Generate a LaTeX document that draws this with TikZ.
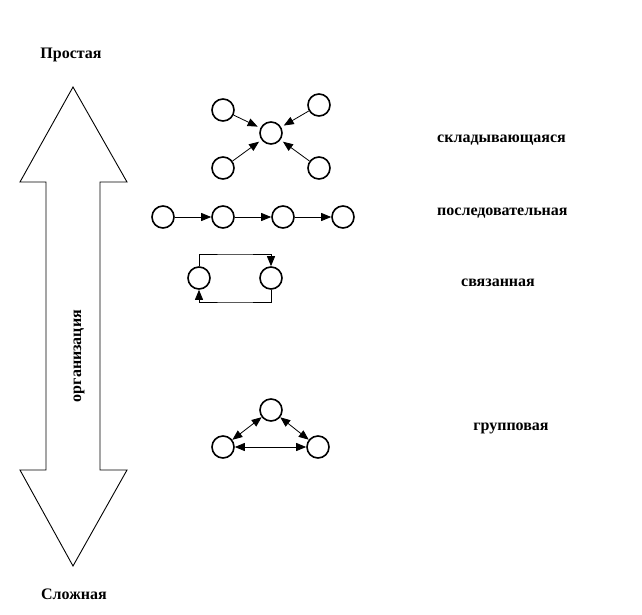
\documentclass[tikz,border=0pt]{standalone}
\usepackage{fontspec}
\setmainfont{Liberation Serif}
\usetikzlibrary{arrows.meta}
\begin{document}
\begin{tikzpicture}[x=1pt,y=-1pt,
  nd/.style={circle,draw,line width=1.6pt,minimum size=22pt,inner sep=0pt},
  lbl/.style={font=\bfseries\fontsize{16}{18}\selectfont,inner sep=0pt},
  conn/.style={line width=0.8pt,-{Triangle[length=10pt,width=8pt]}},
  dconn/.style={line width=0.8pt,{Triangle[length=10pt,width=8pt]}-{Triangle[length=10pt,width=8pt]}}]
\useasboundingbox (0,0) rectangle (642,614);
% big arrow
\draw[line width=0.9pt] (73,87) -- (127,182) -- (100,182) -- (100,470) -- (127,470) -- (73,566)
  -- (20,470) -- (46,470) -- (46,182) -- (20,182) -- cycle;
\node[lbl] (simple) at (71,55) {Простая};
\node[lbl] (complex) at (74,594) {Сложная};
\node[lbl,rotate=90] (org) at (79,356) {организация};
% folding
\node[nd] (a1) at (223,110) {};
\node[nd] (a2) at (319,105) {};
\node[nd] (a0) at (271,133) {};
\node[nd] (a3) at (223,168) {};
\node[nd] (a4) at (319,168) {};
\draw[conn,shorten >=3pt] (a1) -- (a0);
\draw[conn,shorten >=3pt] (a2) -- (a0);
\draw[conn,shorten >=3pt] (a3) -- (a0);
\draw[conn,shorten >=3pt] (a4) -- (a0);
% sequential
\node[nd] (b1) at (163,217) {};
\node[nd] (b2) at (223,217) {};
\node[nd] (b3) at (283,217) {};
\node[nd] (b4) at (343,217) {};
\draw[conn] (b1) -- (b2);
\draw[conn] (b2) -- (b3);
\draw[conn] (b3) -- (b4);
% connected
\node[nd] (c1) at (199,278) {};
\node[nd] (c2) at (271,278) {};
\coordinate (ctop) at (235,254);
\coordinate (cbot) at (235,302);
\draw[conn] (c1.north) |- (ctop) -| (c2.north);
\draw[conn] (c2.south) |- (cbot) -| (c1.south);
% group
\node[nd] (d1) at (271,410) {};
\node[nd] (d2) at (223,447) {};
\node[nd] (d3) at (318,447) {};
\draw[dconn] (d1) -- (d2);
\draw[dconn] (d1) -- (d3);
\draw[dconn] (d2) -- (d3);
% labels
\node[lbl,anchor=west] (l1) at (437,140) {складывающаяся};
\node[lbl,anchor=west] (l2) at (437,213) {последовательная};
\node[lbl] (l3) at (498,283) {связанная};
\node[lbl] (l4) at (511,428) {групповая};
\end{tikzpicture}
\end{document}
